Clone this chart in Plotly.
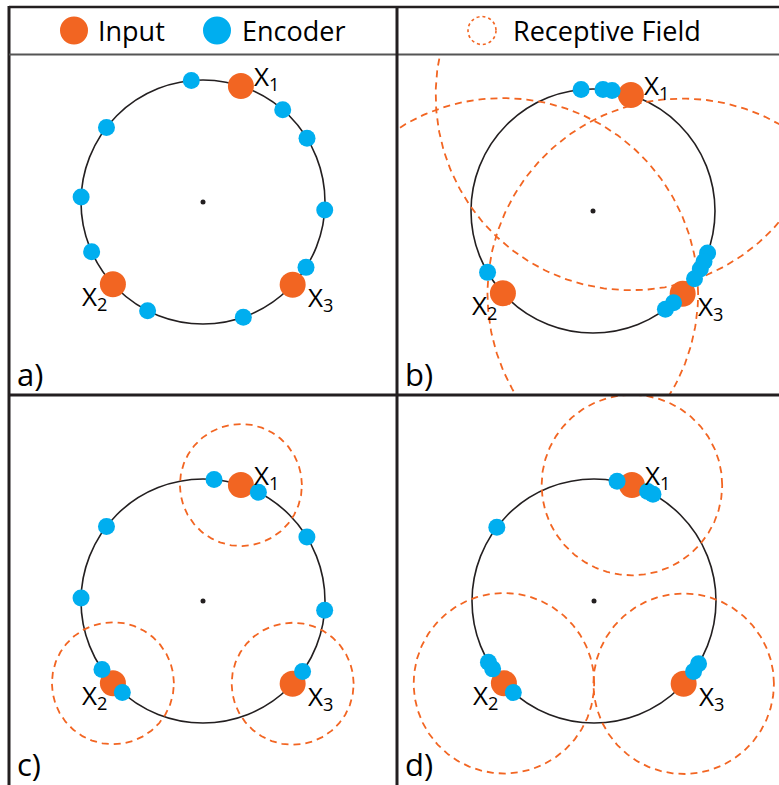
import numpy as np
import plotly.graph_objects as go

# ---------------- data ----------------
panel_names = ["a)", "b)", "c)", "d)"]
input_labels = ["X<sub>1</sub>", "X<sub>2</sub>", "X<sub>3</sub>"]
input_angles = [71.9, 222.4, 317.3]  # degrees, same inputs in every panel
encoder_angles_a = [95.5, 49.2, 31.5, -3.8, -32.4, -70.7, 243.0, 204.1, 177.6, 142.3]
encoder_angles_b = [95.6, 85.3, 81.0, -20.1, -24.5, -28.4, -33.7, -48.7, -53.6, 210.2]
encoder_angles_c = [84.8, 63.0, 31.6, -4.3, -35.3, 228.6, 214.1, 178.6, 142.3]
encoder_angles_d = [79.1, 63.9, 61.1, 142.8, 210.1, 213.8, 228.6, -31.0, -35.3]
receptive_radius = [None, 1.6, 0.5, 0.74]  # in units of the circle radius
legend_labels = ["Input", "Encoder", "Receptive Field"]

encoders = [encoder_angles_a, encoder_angles_b, encoder_angles_c, encoder_angles_d]

# ---------------- styling / layout ----------------
W, H = 779, 785
ORANGE = "#F26522"
BLUE = "#00AEEF"
DARK = "#231F20"
FONT = "Open Sans"
SCALE = 122.0  # px per unit radius

# panel boxes in pixels: (x0, x1, y0_top, y1_bottom) and circle centres
boxes = [(9, 397, 55, 395), (397, 779, 55, 395), (9, 397, 395, 785), (397, 779, 395, 785)]
centres = [(203, 202), (593, 211), (203, 601), (594, 601)]
label_shift = [(26, 9), (-18, -13), (28, -13)]


def px(x):
    return x / W


def py(y):
    return 1 - y / H


fig = go.Figure()
layout = dict(
    width=W, height=H, margin=dict(l=0, r=0, t=0, b=0),
    paper_bgcolor="white", plot_bgcolor="rgba(0,0,0,0)", showlegend=False,
)
shapes = []
annotations = []

for i in range(4):
    sfx = "" if i == 0 else str(i + 1)
    xa, ya = "x" + sfx, "y" + sfx
    x0, x1, yt, yb = boxes[i]
    cx, cy = centres[i]
    layout["xaxis" + sfx] = dict(
        domain=[px(x0), px(x1)],
        range=[(x0 - cx) / SCALE, (x1 - cx) / SCALE],
        visible=False, fixedrange=True, anchor=ya,
    )
    layout["yaxis" + sfx] = dict(
        domain=[py(yb), py(yt)],
        range=[-(yb - cy) / SCALE, (cy - yt) / SCALE],
        visible=False, fixedrange=True, anchor=xa,
    )
    # main circle
    shapes.append(dict(type="circle", xref=xa, yref=ya, x0=-1, x1=1, y0=-1, y1=1,
                       line=dict(color=DARK, width=1.6), layer="below"))
    ia = np.radians(input_angles)
    ix, iy = np.cos(ia), np.sin(ia)
    # receptive fields
    r = receptive_radius[i]
    if r is not None:
        t = np.linspace(0, 2 * np.pi, 361)
        for k in range(len(ix)):
            fig.add_trace(go.Scatter(
                x=ix[k] + r * np.cos(t), y=iy[k] + r * np.sin(t), mode="lines",
                line=dict(color=ORANGE, width=1.8, dash="7px,5px"),
                xaxis=xa, yaxis=ya, hoverinfo="skip", cliponaxis=True))
    # centre dot
    fig.add_trace(go.Scatter(x=[0], y=[0], mode="markers",
                             marker=dict(color=DARK, size=5), xaxis=xa, yaxis=ya))
    # inputs
    fig.add_trace(go.Scatter(x=ix, y=iy, mode="markers",
                             marker=dict(color=ORANGE, size=26, line=dict(width=0)),
                             xaxis=xa, yaxis=ya))
    # encoders
    ea = np.radians(encoders[i])
    fig.add_trace(go.Scatter(x=np.cos(ea), y=np.sin(ea), mode="markers",
                             marker=dict(color=BLUE, size=17, line=dict(width=0)),
                             xaxis=xa, yaxis=ya))
    # input labels
    for k in range(len(ix)):
        annotations.append(dict(
            x=ix[k], y=iy[k], xref=xa, yref=ya, text=input_labels[k], showarrow=False,
            xshift=label_shift[k][0], yshift=label_shift[k][1],
            font=dict(family=FONT, size=26, color="black")))
    # panel label
    annotations.append(dict(
        x=px(x0 + 7), y=py(yb - 21), xref="paper", yref="paper", text=panel_names[i],
        showarrow=False, xanchor="left", yanchor="middle", borderpad=0,
        font=dict(family=FONT, size=31, color="black")))

# borders
bw = 3
shapes += [
    dict(type="line", xref="paper", yref="paper", x0=px(9), x1=1, y0=py(7), y1=py(7),
         line=dict(color=DARK, width=2.5)),
    dict(type="line", xref="paper", yref="paper", x0=px(9), x1=px(9), y0=py(6), y1=0,
         line=dict(color=DARK, width=bw)),
    dict(type="line", xref="paper", yref="paper", x0=px(9), x1=1, y0=py(54.5), y1=py(54.5),
         line=dict(color="#555555", width=2)),
    dict(type="line", xref="paper", yref="paper", x0=px(397), x1=px(397), y0=py(6), y1=0,
         line=dict(color=DARK, width=bw)),
    dict(type="line", xref="paper", yref="paper", x0=px(9), x1=1, y0=py(395), y1=py(395),
         line=dict(color=DARK, width=bw)),
]

# header legend
leg_cy = 30.5
shapes += [
    dict(type="circle", xref="paper", yref="paper", x0=px(60), x1=px(88),
         y0=py(leg_cy + 14), y1=py(leg_cy - 14), fillcolor=ORANGE, line=dict(width=0)),
    dict(type="circle", xref="paper", yref="paper", x0=px(203), x1=px(231),
         y0=py(leg_cy + 14), y1=py(leg_cy - 14), fillcolor=BLUE, line=dict(width=0)),
    dict(type="circle", xref="paper", yref="paper", x0=px(468), x1=px(496),
         y0=py(leg_cy + 14), y1=py(leg_cy - 14), fillcolor="rgba(0,0,0,0)",
         line=dict(color=ORANGE, width=1.6, dash="3px,3px")),
]
for txt, lx in zip(legend_labels, [96, 240, 511]):
    annotations.append(dict(x=px(lx), y=py(leg_cy), xref="paper", yref="paper", text=txt,
                            showarrow=False, xanchor="left", yanchor="middle",
                            font=dict(family=FONT, size=27, color="black")))

layout["shapes"] = shapes
layout["annotations"] = annotations
fig.update_layout(**layout)
fig.write_html("out.html")
